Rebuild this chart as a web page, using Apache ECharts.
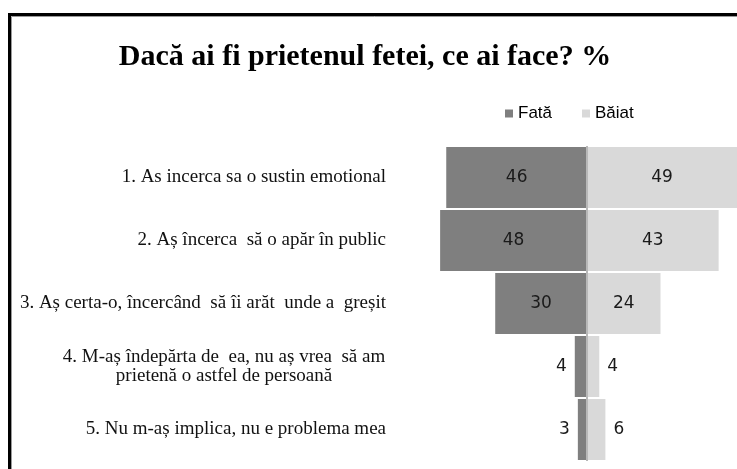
<!DOCTYPE html>
<html>
<head>
<meta charset="utf-8">
<script src="https://cdn.jsdelivr.net/npm/echarts@6/dist/echarts.min.js"></script>
<style>
html,body{margin:0;padding:0;background:#fff;}
#chart{width:737px;height:469px;}
</style>
</head>
<body>
<div id="chart"></div>
<script>
const titleText = 'Dacă ai fi prietenul fetei, ce ai face? %';
const categories = [
  '1. As incerca sa o sustin emotional',
  '2. Aș încerca  să o apăr în public',
  '3. Aș certa-o, încercând  să îi arăt  unde a  greșit',
  '4. M-aș îndepărta de  ea, nu aș vrea  să am\nprietenă o astfel de persoană',
  '5. Nu m-aș implica, nu e problema mea'
];
const seriesNames = ['Fată', 'Băiat'];
const fataValues = [46, 48, 30, 4, 3];
const baiatValues = [49, 43, 24, 4, 6];

const SMALL = 10;
function buildData(vals, sign, outsidePos) {
  return vals.map(v => ({
    value: sign * v,
    label: v < SMALL ? { position: outsidePos, distance: 8 } : { position: 'inside' }
  }));
}

const chart = echarts.init(document.getElementById('chart'));
const labelStyle = {
  show: true,
  fontFamily: 'DejaVu Sans',
  fontSize: 17,
  color: '#1a1a1a',
  formatter: p => Math.abs(p.value)
};

chart.setOption({
  animation: false,
  backgroundColor: '#fff',
  title: {
    text: titleText,
    left: 365,
    textAlign: 'center',
    top: 42,
    padding: 0,
    textStyle: { fontFamily: 'Liberation Serif', fontWeight: 'bold', fontSize: 30, color: '#000' }
  },
  legend: {
    data: seriesNames,
    left: 505,
    top: 105,
    padding: 0,
    itemWidth: 8,
    itemHeight: 8,
    itemGap: 30,
    icon: 'rect',
    textStyle: { fontFamily: 'Liberation Sans', fontSize: 17, color: '#000' }
  },
  grid: { left: 434, right: 0, top: 146, bottom: 8, containLabel: false },
  xAxis: {
    type: 'value', min: -50, max: 49, show: false
  },
  yAxis: {
    type: 'category',
    inverse: true,
    data: categories,
    axisLine: { show: false },
    axisTick: { show: false },
    splitLine: { show: false },
    axisLabel: {
      margin: 48,
      fontFamily: 'Liberation Serif',
      fontSize: 19,
      color: '#111',
      lineHeight: 19,
      formatter: function (v) {
        if (v.indexOf('\n') >= 0) {
          return v.split('\n').map(s => '{c|' + s + '}').join('\n');
        }
        return v;
      },
      rich: {
        c: { width: 324, align: 'center', fontFamily: 'Liberation Serif', fontSize: 19, color: '#111', lineHeight: 19 }
      }
    }
  },
  series: [
    {
      name: seriesNames[0],
      type: 'bar',
      barWidth: 61,
      barGap: '-100%',
      itemStyle: { color: '#7f7f7f' },
      label: labelStyle,
      data: buildData(fataValues, -1, 'left')
    },
    {
      name: seriesNames[1],
      type: 'bar',
      barWidth: 61,
      itemStyle: { color: '#d9d9d9' },
      label: labelStyle,
      data: buildData(baiatValues, 1, 'right'),
      markLine: {
        silent: true,
        symbol: 'none',
        label: { show: false },
        lineStyle: { color: '#b8b8b8', width: 2, type: 'solid' },
        data: [{ xAxis: 0 }]
      }
    }
  ],
  graphic: [
    { type: 'rect', shape: { x: 11.5, y: 16.5, width: 800, height: 600 }, style: { fill: null, stroke: '#9a9a9a', lineWidth: 1 }, z: 10 },
    { type: 'rect', shape: { x: 9.5, y: 14.5, width: 800, height: 600 }, style: { fill: null, stroke: '#000', lineWidth: 3 }, z: 11 }
  ]
});
</script>
</body>
</html>
